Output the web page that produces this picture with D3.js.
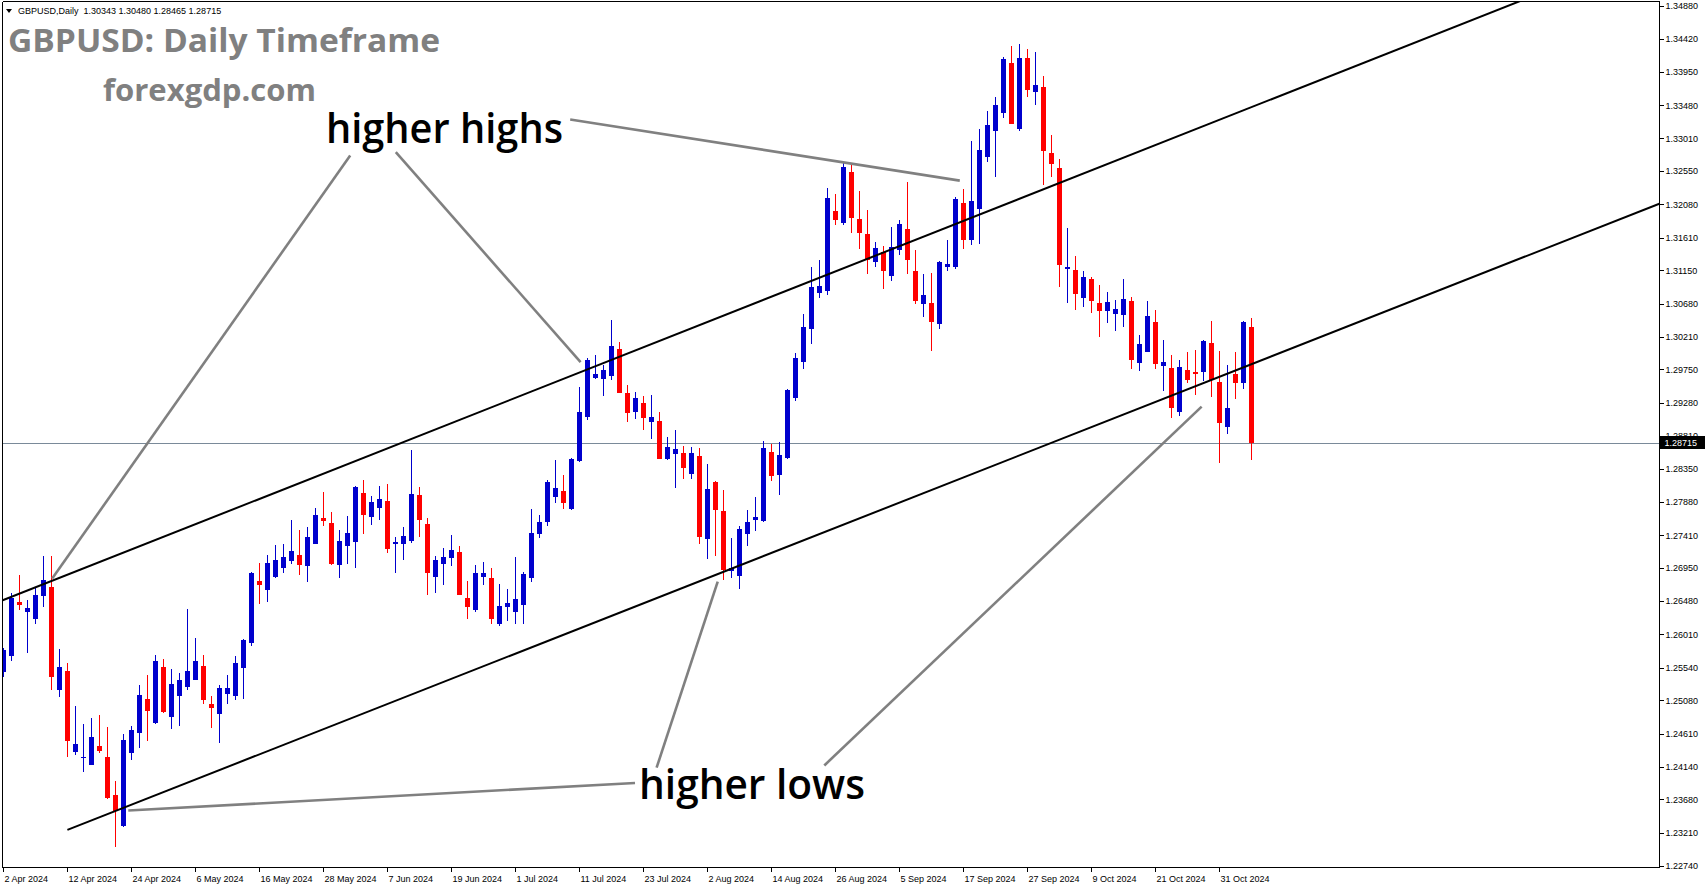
<!DOCTYPE html>
<html><head><meta charset="utf-8">
<script src="https://cdn.jsdelivr.net/npm/d3@7"></script>
<style>
html,body{margin:0;padding:0;background:#fff;overflow:hidden;}
svg{display:block;}
</style></head><body>
<svg id="chart" width="1705" height="888"></svg>
<script>
// ---------------- DATA ----------------
const symbolInfo = "GBPUSD,Daily  1.30343 1.30480 1.28465 1.28715";
const chartTitle = "GBPUSD: Daily Timeframe";
const siteName = "forexgdp.com";
const firstDay = "2024-04-02";
const lastDay = "2024-11-06";

const openP = [1.2548,1.2571,1.2647,1.2633,1.2623,1.2655,1.2668,1.2522,1.2549,1.2435,
1.2426,1.2417,1.2443,1.2428,1.2374,1.2330,1.2433,1.2462,1.2510,1.2476,
1.2555,1.2485,1.2514,1.2526,1.2537,1.2556,1.2503,1.2488,1.2517,1.2514,
1.2554,1.2589,1.2676,1.2663,1.2682,1.2695,1.2704,1.2713,1.2698,1.2729,
1.2765,1.2758,1.2699,1.2726,1.2732,1.2801,1.2766,1.2780,1.2789,1.2728,
1.2728,1.2733,1.2798,1.2757,1.2682,1.2701,1.2709,1.2717,1.2652,1.2636,
1.2682,1.2681,1.2616,1.2640,1.2632,1.2643,1.2680,1.2742,1.2759,1.2795,
1.2803,1.2778,1.2846,1.2908,1.2963,1.2961,1.2966,1.3004,1.2942,1.2915,
1.2928,1.2901,1.2902,1.2848,1.2855,1.2857,1.2828,1.2853,1.2736,1.2816,
1.2775,1.2691,1.2684,1.2743,1.2763,1.2761,1.2858,1.2826,1.2850,1.2934,
1.2986,1.3032,1.3083,1.3086,1.3199,1.3182,1.3254,1.3187,1.3166,1.3126,
1.3141,1.3107,1.3144,1.3173,1.3114,1.3068,1.3069,1.3039,1.3119,1.3120,
1.3210,1.3158,1.3202,1.3275,1.3311,1.3337,1.3407,1.3315,1.3415,1.3367,
1.3374,1.3281,1.3259,1.3117,1.3115,1.3076,1.3103,1.3069,1.3057,1.3053,
1.3052,1.3072,1.2984,1.3000,1.3042,1.2980,1.2977,1.2915,1.2974,1.2972,
1.2971,1.3012,1.2957,1.2894,1.2969,1.2956,1.30343];
const highP = [1.2582,1.2659,1.2685,1.2650,1.2668,1.2711,1.2711,1.2580,1.2560,1.2500,
1.2474,1.2483,1.2487,1.2470,1.2394,1.2460,1.2472,1.2529,1.2543,1.2572,
1.2566,1.2552,1.2547,1.2637,1.2596,1.2572,1.2514,1.2529,1.2544,1.2570,
1.2595,1.2689,1.2702,1.2713,1.2727,1.2729,1.2762,1.2748,1.2753,1.2779,
1.2802,1.2774,1.2748,1.2768,1.2810,1.2819,1.2796,1.2810,1.2813,1.2738,
1.2753,1.2861,1.2809,1.2765,1.2712,1.2723,1.2741,1.2726,1.2676,1.2699,
1.2703,1.2695,1.2672,1.2665,1.2710,1.2689,1.2778,1.2770,1.2819,1.2847,
1.2826,1.2850,1.2950,1.2991,1.2995,1.2981,1.3045,1.3014,1.2953,1.2943,
1.2938,1.2939,1.2915,1.2880,1.2890,1.2867,1.2866,1.2864,1.2842,1.2818,
1.2805,1.2737,1.2754,1.2776,1.2795,1.2874,1.2870,1.2873,1.2947,1.2998,
1.3053,1.3120,1.3129,1.3231,1.3223,1.3266,1.3266,1.3227,1.3200,1.3155,
1.3149,1.3176,1.3186,1.3240,1.3144,1.3109,1.3111,1.3128,1.3158,1.3218,
1.3230,1.3297,1.3314,1.3340,1.3360,1.3416,1.3431,1.3434,1.3427,1.3423,
1.3389,1.3306,1.3272,1.3175,1.3135,1.3114,1.3105,1.3094,1.3084,1.3073,
1.3103,1.3077,1.3024,1.3072,1.3059,1.3017,1.2995,1.2988,1.2999,1.3002,
1.3016,1.3043,1.3001,1.2981,1.2999,1.3043,1.30480];
const lowP = [1.2541,1.2564,1.2635,1.2575,1.2615,1.2640,1.2522,1.2512,1.2428,1.2431,
1.2407,1.2416,1.2434,1.2368,1.2301,1.2329,1.2424,1.2441,1.2451,1.2475,
1.2490,1.2468,1.2472,1.2523,1.2536,1.2502,1.2469,1.2447,1.2503,1.2509,
1.2510,1.2584,1.2644,1.2646,1.2681,1.2687,1.2701,1.2685,1.2675,1.2728,
1.2754,1.2699,1.2681,1.2701,1.2695,1.2743,1.2756,1.2763,1.2716,1.2688,
1.2706,1.2730,1.2739,1.2657,1.2660,1.2670,1.2698,1.2656,1.2623,1.2633,
1.2671,1.2616,1.2613,1.2620,1.2616,1.2616,1.2675,1.2737,1.2754,1.2787,
1.2778,1.2777,1.2845,1.2903,1.2962,1.2938,1.2960,1.2941,1.2901,1.2905,
1.2889,1.2877,1.2848,1.2847,1.2807,1.2821,1.2821,1.2728,1.2708,1.2711,
1.2678,1.2680,1.2665,1.2726,1.2747,1.2760,1.2817,1.2798,1.2849,1.2931,
1.2975,1.3011,1.3076,1.3080,1.3179,1.3179,1.3167,1.3145,1.3109,1.3119,
1.3088,1.3100,1.3136,1.3110,1.3068,1.3049,1.3001,1.3032,1.3114,1.3117,
1.3145,1.3150,1.3152,1.3268,1.3247,1.3330,1.3321,1.3312,1.3359,1.3348,
1.3236,1.3246,1.3091,1.3069,1.3059,1.3063,1.3055,1.3021,1.3041,1.3029,
1.3035,1.2976,1.2973,1.2999,1.2976,1.2945,1.2906,1.2909,1.2956,1.2939,
1.2959,1.2936,1.2843,1.2884,1.2933,1.2947,1.28465];
const closeP = [1.2579,1.2652,1.2642,1.2638,1.2657,1.2678,1.2541,1.2555,1.2450,1.2446,
1.2428,1.2456,1.2437,1.2370,1.2352,1.2452,1.2466,1.2515,1.2493,1.2563,
1.2491,1.2531,1.2537,1.2549,1.2563,1.2508,1.2497,1.2525,1.2525,1.2561,
1.2593,1.2688,1.2671,1.2702,1.2706,1.2710,1.2719,1.2699,1.2738,1.2770,
1.2761,1.2701,1.2733,1.2744,1.2809,1.2770,1.2788,1.2792,1.2722,1.2731,
1.2740,1.2799,1.2763,1.2688,1.2706,1.2710,1.2720,1.2657,1.2639,1.2688,
1.2688,1.2622,1.2641,1.2645,1.2651,1.2686,1.2744,1.2760,1.2816,1.2808,
1.2787,1.2849,1.2915,1.2988,1.2969,1.2974,1.3008,1.2942,1.2913,1.2935,
1.2907,1.2908,1.2849,1.2866,1.2863,1.2836,1.2857,1.2739,1.2806,1.2777,
1.2692,1.2695,1.2750,1.2760,1.2767,1.2864,1.2825,1.2854,1.2946,1.2991,
1.3035,1.3092,1.3093,1.3217,1.3186,1.3261,1.3189,1.3168,1.3129,1.3146,
1.3114,1.3148,1.3180,1.3130,1.3072,1.3080,1.3042,1.3127,1.3124,1.3216,
1.3158,1.3213,1.3285,1.3320,1.3348,1.3413,1.3322,1.3415,1.3369,1.3377,
1.3284,1.3265,1.3122,1.3120,1.3081,1.3105,1.3072,1.3057,1.3070,1.3060,
1.3074,1.2988,1.3011,1.3050,1.2983,1.2985,1.2921,1.2978,1.2960,1.2969,
1.3015,1.2960,1.2899,1.2921,1.2956,1.3042,1.28715];

const yTicks = [1.34880,1.34420,1.33950,1.33480,1.33010,1.32550,1.32080,1.31610,1.31150,
1.30680,1.30210,1.29750,1.29280,1.28810,1.28350,1.27880,1.27410,1.26950,1.26480,
1.26010,1.25540,1.25080,1.24610,1.24140,1.23680,1.23210,1.22740];
const xTickDates = ["2024-04-02","2024-04-12","2024-04-24","2024-05-06","2024-05-16","2024-05-28",
"2024-06-07","2024-06-19","2024-07-01","2024-07-11","2024-07-23","2024-08-02","2024-08-14",
"2024-08-26","2024-09-05","2024-09-17","2024-09-27","2024-10-09","2024-10-21","2024-10-31"];
const currentPrice = 1.28715;

// channel lines: two anchor points each (bar index, price)
const upperChannel = [[-0.5, 1.26470], [150, 1.33182]];
const lowerChannel = [[8.05, 1.23250], [150, 1.29555]];
// annotation pointer lines (bar index, price)
const highPointers = [
  [[43.4, 1.32770], [6.15, 1.26798]],
  [[49.1, 1.32816], [72.2, 1.29853]],
  [[70.9, 1.33277], [119.6, 1.32415]]
];
const lowPointers = [
  [[79.0, 1.23912], [15.66, 1.23523]],
  [[81.7, 1.24128], [89.34, 1.26753]],
  [[102.66, 1.24159], [149.83, 1.29224]]
];

// ---------------- SETUP ----------------
const W = 1705, H = 888;
const plot = {left: 2.5, right: 1659.5, top: 1.5, bottom: 867.5};
const svg = d3.select("#chart");
svg.append("rect").attr("width", W).attr("height", H).attr("fill", "#fff");

const parse = d3.utcParse("%Y-%m-%d");
const key = d3.utcFormat("%Y-%m-%d");
const dates = d3.utcDay.range(parse(firstDay), d3.utcDay.offset(parse(lastDay), 1))
  .filter(d => d.getUTCDay() !== 0 && d.getUTCDay() !== 6);
const data = dates.map((d, i) => ({key: key(d), i, o: openP[i], h: highP[i], l: lowP[i], c: closeP[i]}));

const step = 8;
const x = d3.scalePoint().domain(data.map(d => d.key)).range([3, 3 + step * (data.length - 1)]);
const xi = d3.scaleLinear().domain([0, data.length - 1]).range([3, 3 + step * (data.length - 1)]);
const y = d3.scaleLinear().domain([1.22740, 1.34880]).range([866, 6]);

svg.append("defs").append("clipPath").attr("id", "plotClip")
  .append("rect").attr("x", plot.left + 0.5).attr("y", plot.top + 0.5)
  .attr("width", plot.right - plot.left - 1).attr("height", plot.bottom - plot.top - 1);

const body = svg.append("g").attr("clip-path", "url(#plotClip)");

// current price line
body.append("line").attr("x1", plot.left).attr("x2", plot.right)
  .attr("y1", Math.round(y(currentPrice)) + 0.5).attr("y2", Math.round(y(currentPrice)) + 0.5)
  .attr("stroke", "#7a8a99").attr("stroke-width", 1);

// candles
const bull = "#0000CD", bear = "#FF0000";
const cg = body.append("g").attr("shape-rendering", "crispEdges");
const candle = cg.selectAll("g.c").data(data).join("g").attr("class", "c");
candle.append("line")
  .attr("x1", d => x(d.key) + 0.5).attr("x2", d => x(d.key) + 0.5)
  .attr("y1", d => y(d.h)).attr("y2", d => y(d.l))
  .attr("stroke", d => d.c >= d.o ? bull : bear).attr("stroke-width", 1);
candle.append("rect")
  .attr("x", d => x(d.key) - 2).attr("width", 5)
  .attr("y", d => y(Math.max(d.o, d.c)))
  .attr("height", d => Math.max(1, Math.abs(y(d.o) - y(d.c))))
  .attr("fill", d => d.c >= d.o ? bull : bear);

// channel lines (extended as rays)
function ray(pts, i0, i1) {
  const [[a, pa], [b, pb]] = pts;
  const s = (pb - pa) / (b - a);
  return [[i0, pa + (i0 - a) * s], [i1, pa + (i1 - a) * s]];
}
const lineGen = d3.line().x(d => xi(d[0])).y(d => y(d[1]));
body.append("path").attr("d", lineGen(ray(upperChannel, -1, 215)))
  .attr("stroke", "#000").attr("stroke-width", 2).attr("fill", "none");
body.append("path").attr("d", lineGen(ray(lowerChannel, lowerChannel[0][0], 215)))
  .attr("stroke", "#000").attr("stroke-width", 2).attr("fill", "none");

// pointer lines
body.selectAll("path.ptr").data(highPointers.concat(lowPointers)).join("path")
  .attr("class", "ptr").attr("d", d => lineGen(d))
  .attr("stroke", "#808080").attr("stroke-width", 2.6).attr("fill", "none");

// annotation texts
const font = "'Open Sans', 'Noto Sans', sans-serif";
svg.append("text").attr("x", 8).attr("y", 51.5).text(chartTitle)
  .attr("font-family", font).attr("font-weight", 700).attr("font-size", 32)
  .attr("fill", "#808080").attr("textLength", 432).attr("lengthAdjust", "spacingAndGlyphs");
svg.append("text").attr("x", 103).attr("y", 101).text(siteName)
  .attr("font-family", font).attr("font-weight", 700).attr("font-size", 30)
  .attr("fill", "#808080").attr("textLength", 213).attr("lengthAdjust", "spacingAndGlyphs");
svg.append("text").attr("x", 326).attr("y", 142.5).text("higher highs")
  .attr("font-family", font).attr("font-weight", 600).attr("font-size", 42)
  .attr("fill", "#000").attr("textLength", 237).attr("lengthAdjust", "spacingAndGlyphs");
svg.append("text").attr("x", 639).attr("y", 798.5).text("higher lows")
  .attr("font-family", font).attr("font-weight", 600).attr("font-size", 42)
  .attr("fill", "#000").attr("textLength", 226).attr("lengthAdjust", "spacingAndGlyphs");

// frame
const frame = svg.append("g").attr("shape-rendering", "crispEdges").attr("stroke", "#000").attr("fill", "none");
frame.append("line").attr("x1", plot.left).attr("x2", plot.right).attr("y1", plot.top).attr("y2", plot.top);
frame.append("line").attr("x1", plot.left).attr("x2", plot.right).attr("y1", plot.bottom).attr("y2", plot.bottom);
frame.append("line").attr("x1", plot.left).attr("x2", plot.left).attr("y1", plot.top).attr("y2", plot.bottom);
frame.append("line").attr("x1", plot.right).attr("x2", plot.right).attr("y1", plot.top).attr("y2", plot.bottom);

// axes
const axisFont = "'Liberation Sans', Arial, sans-serif";
const yAxis = d3.axisRight(y).tickValues(yTicks).tickSize(4).tickPadding(2).tickFormat(d3.format(".5f"));
const gy = svg.append("g").attr("transform", `translate(${plot.right},0)`).call(yAxis);
gy.select(".domain").remove();
gy.selectAll(".tick line").attr("stroke", "#000").attr("shape-rendering", "crispEdges");
gy.selectAll(".tick text").attr("font-family", axisFont).attr("font-size", 9).attr("fill", "#000");

const xAxis = d3.axisBottom(x).tickValues(xTickDates).tickSize(4)
  .tickFormat(d => d3.utcFormat("%-d %b %Y")(parse(d)));
const gx = svg.append("g").attr("transform", `translate(0,${plot.bottom})`).call(xAxis);
gx.select(".domain").remove();
gx.selectAll(".tick line").attr("stroke", "#000").attr("shape-rendering", "crispEdges");
gx.selectAll(".tick text").attr("font-family", axisFont).attr("font-size", 9).attr("fill", "#000")
  .attr("text-anchor", "start").attr("x", 1).attr("y", 8);

// current price label box
const cy = y(currentPrice);
svg.append("rect").attr("x", plot.right + 0.5).attr("y", cy - 6.5).attr("width", W - plot.right).attr("height", 13)
  .attr("fill", "#000").attr("shape-rendering", "crispEdges");
svg.append("text").attr("x", plot.right + 5).attr("y", cy).attr("dy", "0.35em")
  .text(d3.format(".5f")(currentPrice))
  .attr("font-family", axisFont).attr("font-size", 9).attr("fill", "#fff");

// top-left symbol info
svg.append("path").attr("d", "M6,9 L12,9 L9,13 Z").attr("fill", "#000");
svg.append("text").attr("x", 18).attr("y", 14).text(symbolInfo)
  .attr("font-family", axisFont).attr("font-size", 9).attr("fill", "#000")
  .attr("xml:space", "preserve").style("white-space", "pre");
</script>
</body></html>
